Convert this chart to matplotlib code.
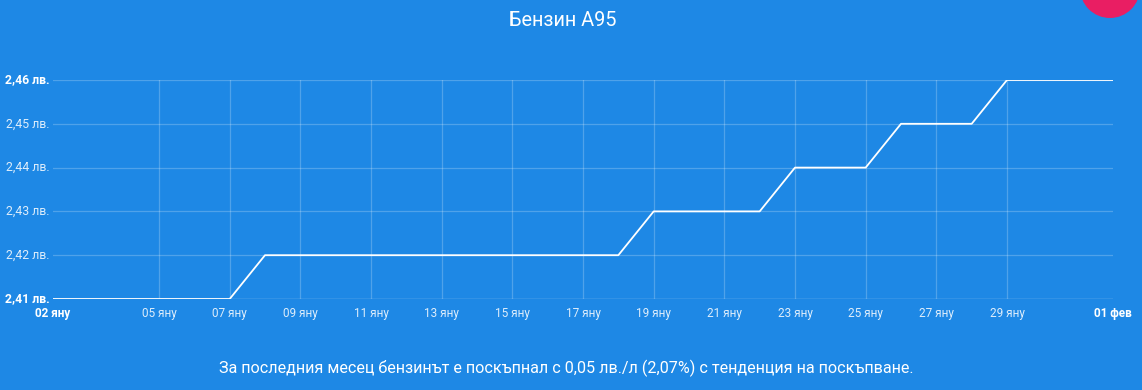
import matplotlib
matplotlib.use("Agg")
import matplotlib.pyplot as plt
import matplotlib.dates as mdates
from matplotlib.patches import Circle
import datetime as dt

plt.rcParams['font.family'] = ['Roboto', 'DejaVu Sans']

title = "Бензин А95"
caption = "За последния месец бензинът е поскъпнал с 0,05 лв./л (2,07%) с тенденция на поскъпване."
start_date = dt.date(2024, 1, 2)
prices = [2.41]*6 + [2.42]*11 + [2.43]*4 + [2.44]*3 + [2.45]*3 + [2.46]*4
dates = [start_date + dt.timedelta(days=i) for i in range(len(prices))]
y_ticks = [2.41, 2.42, 2.43, 2.44, 2.45, 2.46]
tick_days = [5, 7, 9, 11, 13, 15, 17, 19, 21, 23, 25, 27, 29]
month_short = {1: "яну", 2: "фев"}

bg = "#1E88E5"
fig = plt.figure(figsize=(11.42, 3.90), dpi=100, facecolor=bg)
ax = fig.add_axes([53/1142, (390-299)/390, (1113-53)/1142, (299-80)/390])
ax.set_facecolor(bg)

xd = mdates.date2num(dates)
ax.plot(xd, prices, color="white", lw=1.3, zorder=3)

ax.set_xlim(xd[0], xd[-1])
ax.set_ylim(y_ticks[0], y_ticks[-1])

grid_col = (1, 1, 1, 0.22)
for v in y_ticks:
    ax.axhline(v, color=grid_col, lw=0.9, zorder=1)
tick_dates = [dt.date(2024, 1, d) for d in tick_days]
tick_x = mdates.date2num(tick_dates)
for t in tick_x:
    ax.axvline(t, color=grid_col, lw=0.9, zorder=1)
ax.axhline(y_ticks[0], color=(1, 1, 1, 0.35), lw=1.0, zorder=2)

for s in ax.spines.values():
    s.set_visible(False)
ax.set_xticks([])
ax.set_yticks([])

for v in y_ticks:
    lab = f"{v:.2f}".replace(".", ",") + " лв."
    bold = v in (y_ticks[0], y_ticks[-1])
    ax.text(-0.003, v, lab, transform=ax.get_yaxis_transform(), ha="right", va="center",
            fontsize=8.8, color="white" if bold else (1, 1, 1, 0.85),
            fontweight="bold" if bold else "normal")

all_x = [xd[0]] + list(tick_x) + [xd[-1]]
all_d = [dates[0]] + tick_dates + [dates[-1]]
for i, (xx, d) in enumerate(zip(all_x, all_d)):
    bold = i == 0 or i == len(all_x) - 1
    lab = f"{d.day:02d} {month_short[d.month]}"
    ax.text(xx, -0.035, lab, transform=ax.get_xaxis_transform(), ha="center", va="top",
            fontsize=8.5, color="white" if bold else (1, 1, 1, 0.85),
            fontweight="bold" if bold else "normal")

fig.text(563/1142, 1 - 20/390, title, ha="center", va="center", fontsize=14.3, color="white")
fig.text(566/1142, 1 - 368/390, caption, ha="center", va="center", fontsize=11.6, color="white")

circ = Circle((1110/100, (390+12)/100), radius=0.30, transform=fig.dpi_scale_trans,
              facecolor="#E91E63", edgecolor="none")
fig.patches.append(circ)

fig.savefig("out.png", dpi=100, facecolor=bg)
